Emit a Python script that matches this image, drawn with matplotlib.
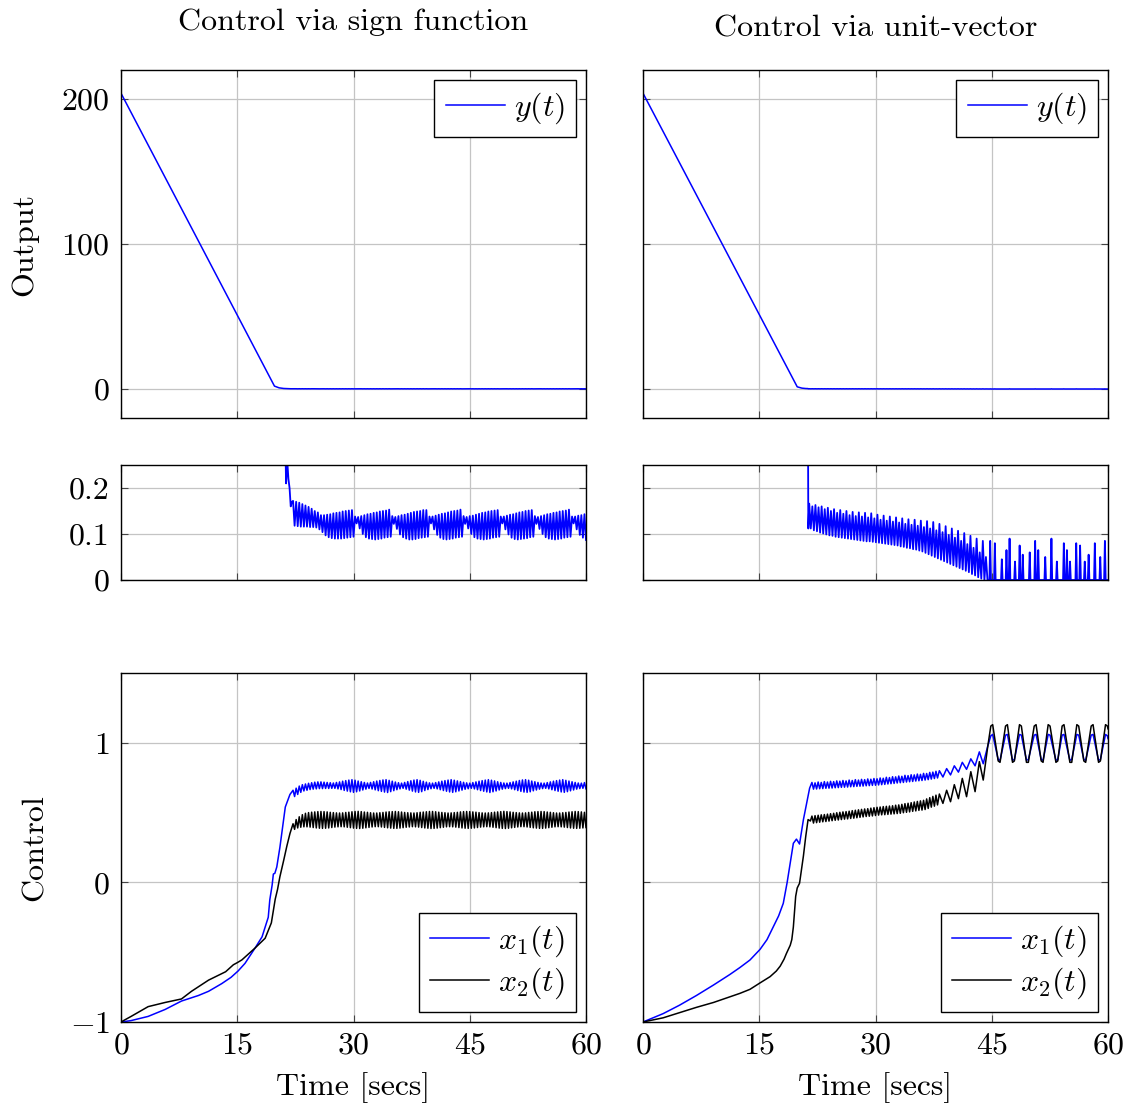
import numpy as np
import matplotlib.pyplot as plt

plt.rcParams['font.family'] = 'cmr10'
plt.rcParams['mathtext.fontset'] = 'cm'
plt.rcParams['axes.formatter.use_mathtext'] = True
plt.rcParams['font.size'] = 23

# ---------------- data ----------------
# output y(t), sign function: slope, then chattering (hi at 22.2+0.4k, lo in between)
y_sign_head_t = [0, 19.8, 20.4, 21.0, 21.2, 21.3, 21.45, 21.6, 21.75, 21.9, 22.05]
y_sign_head = [204.0, 2.0, 0.8, 0.36, 0.30, 0.21, 0.26, 0.22, 0.20, 0.16, 0.17]
y_sign_hi = [0.172, 0.170, 0.168, 0.165, 0.162, 0.159, 0.155, 0.150, 0.147, 0.141,
             0.141, 0.142, 0.143, 0.145, 0.146, 0.147, 0.149, 0.150, 0.151, 0.152,
             0.138, 0.137, 0.139, 0.141, 0.143, 0.144, 0.146, 0.147, 0.149, 0.150, 0.151, 0.153,
             0.139, 0.137, 0.139, 0.141, 0.142, 0.144, 0.146, 0.148, 0.149, 0.150, 0.152, 0.152,
             0.138, 0.138, 0.140, 0.142, 0.144, 0.145, 0.147, 0.149, 0.150, 0.151, 0.153,
             0.139, 0.137, 0.139, 0.140, 0.142, 0.144, 0.146, 0.147, 0.149, 0.150, 0.151, 0.152,
             0.138, 0.138, 0.140, 0.142, 0.143, 0.145, 0.147, 0.148, 0.150, 0.151, 0.152,
             0.139, 0.137, 0.139, 0.141, 0.143, 0.144, 0.146, 0.147, 0.149, 0.150, 0.151, 0.153,
             0.138, 0.138, 0.140, 0.141, 0.143]
y_sign_lo = [0.118, 0.117, 0.116, 0.116, 0.116, 0.115, 0.115, 0.114, 0.110, 0.104,
             0.097, 0.093, 0.091, 0.090, 0.090, 0.090, 0.091, 0.092, 0.093, 0.094,
             0.123, 0.112, 0.100, 0.093, 0.090, 0.089, 0.088, 0.089, 0.090, 0.092, 0.093, 0.094,
             0.122, 0.111, 0.099, 0.093, 0.090, 0.088, 0.088, 0.089, 0.091, 0.092, 0.093, 0.094,
             0.123, 0.110, 0.098, 0.092, 0.089, 0.088, 0.089, 0.090, 0.092, 0.093, 0.094,
             0.122, 0.112, 0.100, 0.093, 0.090, 0.089, 0.088, 0.089, 0.090, 0.092, 0.093, 0.094,
             0.123, 0.110, 0.099, 0.092, 0.089, 0.088, 0.089, 0.090, 0.091, 0.093, 0.094,
             0.122, 0.111, 0.100, 0.093, 0.090, 0.089, 0.088, 0.089, 0.090, 0.092, 0.093, 0.094,
             0.123, 0.110, 0.098, 0.092, 0.087]

# output y(t), unit-vector: slope, chattering (hi at 21.45+0.4k), then spikes from zero
y_unit_head_t = [0, 19.9, 20.5, 21.0, 21.3, 21.33]
y_unit_head = [204.0, 1.5, 0.6, 0.33, 0.28, 0.112]
y_unit_hi = [0.166, 0.160, 0.163, 0.158, 0.160, 0.154, 0.157, 0.150, 0.154, 0.146,
             0.152, 0.144, 0.150, 0.141, 0.148, 0.139, 0.147, 0.138, 0.146, 0.136,
             0.145, 0.134, 0.142, 0.131, 0.140, 0.129, 0.138, 0.127, 0.136, 0.125,
             0.134, 0.122, 0.132, 0.120, 0.131, 0.118, 0.129, 0.115, 0.128, 0.112,
             0.126, 0.108, 0.122, 0.104, 0.117, 0.098, 0.112, 0.092, 0.107, 0.085,
             0.102, 0.078, 0.096, 0.070, 0.090, 0.060, 0.085, 0.050]
y_unit_lo = [0.112, 0.108, 0.106, 0.103, 0.101, 0.099, 0.097, 0.096, 0.094, 0.093,
             0.092, 0.091, 0.090, 0.089, 0.088, 0.087, 0.086, 0.085, 0.084, 0.084,
             0.083, 0.082, 0.081, 0.080, 0.079, 0.078, 0.077, 0.076, 0.075, 0.073,
             0.072, 0.070, 0.069, 0.067, 0.066, 0.064, 0.062, 0.059, 0.056, 0.053,
             0.050, 0.047, 0.044, 0.041, 0.038, 0.035, 0.032, 0.029, 0.026, 0.023,
             0.020, 0.017, 0.013, 0.010, 0.006, 0.003, 0.0, 0.0]
y_unit_spike_t = [44.8, 45.4, 46.3, 46.9, 47.3, 48.0, 48.6, 49.0, 49.9, 50.6, 51.0, 51.9,
                  52.7, 53.4, 54.3, 54.7, 55.1, 55.9, 56.4, 57.0, 57.5, 58.3, 59.0, 59.6]
y_unit_spike = [0.085, 0.080, 0.045, 0.065, 0.090, 0.040, 0.075, 0.055, 0.060, 0.085, 0.065, 0.050,
                0.090, 0.040, 0.080, 0.065, 0.040, 0.080, 0.075, 0.040, 0.055, 0.080, 0.050, 0.085]

# control, sign function
x1_sign_head_t = [0, 1.3, 3.5, 5.7, 7.8, 10.0, 11.3, 13.0, 14.2, 15.1, 16.0, 17.3, 18.2, 19.0, 19.2,
                  19.5, 19.66, 19.85, 20.1, 20.5, 21.2, 21.4, 21.8]
x1_sign_head = [-1.0, -0.99, -0.96, -0.91, -0.85, -0.81, -0.78, -0.725, -0.68, -0.635, -0.58, -0.47,
                -0.39, -0.25, -0.125, -0.02, 0.06, 0.065, 0.11, 0.25, 0.54, 0.57, 0.63]
x1_sign_hi = [0.660, 0.675, 0.690, 0.700, 0.705, 0.710, 0.714, 0.718, 0.720, 0.720, 0.718, 0.716, 0.714,
              0.712,
              0.716, 0.720, 0.725, 0.729, 0.733, 0.736,
              0.732, 0.726, 0.721, 0.716, 0.712,
              0.716, 0.721, 0.726, 0.730, 0.734, 0.736,
              0.731, 0.725, 0.719, 0.714, 0.711,
              0.716, 0.722, 0.728, 0.733, 0.736,
              0.731, 0.724, 0.718, 0.713, 0.711,
              0.715, 0.720, 0.725, 0.729, 0.733, 0.736,
              0.732, 0.727, 0.722, 0.717, 0.713, 0.711,
              0.715, 0.720, 0.725, 0.729, 0.733, 0.736,
              0.732, 0.727, 0.721, 0.716, 0.712, 0.711,
              0.715, 0.720, 0.725, 0.730, 0.734, 0.736,
              0.732, 0.726, 0.721, 0.716, 0.712, 0.711,
              0.715, 0.720, 0.725, 0.729, 0.733, 0.736,
              0.731, 0.726, 0.721, 0.716, 0.712, 0.711,
              0.715]
x1_sign_lo = [0.615, 0.630, 0.645, 0.655, 0.660, 0.665, 0.668, 0.670, 0.672, 0.672, 0.673, 0.673, 0.674,
              0.674,
              0.670, 0.665, 0.659, 0.654, 0.649, 0.645,
              0.649, 0.655, 0.662, 0.668, 0.673,
              0.669, 0.663, 0.657, 0.652, 0.647, 0.644,
              0.650, 0.657, 0.664, 0.670, 0.674,
              0.668, 0.661, 0.654, 0.648, 0.645,
              0.650, 0.658, 0.665, 0.671, 0.674,
              0.670, 0.664, 0.658, 0.653, 0.648, 0.645,
              0.649, 0.655, 0.661, 0.667, 0.671, 0.674,
              0.670, 0.664, 0.658, 0.653, 0.648, 0.644,
              0.649, 0.655, 0.662, 0.668, 0.672, 0.674,
              0.670, 0.664, 0.658, 0.652, 0.647, 0.645,
              0.649, 0.656, 0.662, 0.668, 0.672, 0.674,
              0.670, 0.664, 0.658, 0.653, 0.648, 0.645,
              0.650, 0.656, 0.662, 0.668, 0.672, 0.674,
              0.670]

x2_sign_head_t = [0, 1.3, 3.5, 5.7, 7.8, 9.1, 11.3, 13.5, 14.5, 15.0, 15.6, 17.3, 18.6, 19.4,
                  19.9, 20.2, 20.5, 21.0, 21.4, 21.8]
x2_sign_head = [-1.0, -0.96, -0.89, -0.86, -0.835, -0.78, -0.70, -0.64, -0.59, -0.575, -0.555, -0.47,
                -0.40, -0.29, -0.12, -0.05, 0.04, 0.16, 0.26, 0.35]
x2_sign_hi = [0.420, 0.450, 0.470, 0.485, 0.495,
              0.500, 0.503, 0.505, 0.507, 0.508, 0.507, 0.505, 0.502, 0.500, 0.498, 0.497, 0.498,
              0.501, 0.503, 0.506, 0.508, 0.509, 0.507, 0.504, 0.502, 0.499, 0.497, 0.497, 0.499,
              0.501, 0.504, 0.506, 0.507, 0.508, 0.506, 0.504, 0.501, 0.499, 0.498, 0.497, 0.499,
              0.502, 0.504, 0.506, 0.508, 0.508, 0.506, 0.503, 0.501, 0.499, 0.497, 0.498, 0.500,
              0.502, 0.505, 0.507, 0.508, 0.507, 0.505, 0.503, 0.500, 0.498, 0.497, 0.498, 0.500,
              0.503, 0.505, 0.507, 0.509, 0.507, 0.505, 0.502, 0.500, 0.498, 0.497, 0.498, 0.501,
              0.503, 0.506, 0.507, 0.508, 0.507, 0.504, 0.502, 0.499, 0.497, 0.497, 0.499, 0.501,
              0.504, 0.506, 0.508, 0.507, 0.505, 0.502]
x2_sign_lo = [0.380, 0.390, 0.395, 0.398, 0.398,
              0.396, 0.393, 0.390, 0.388, 0.387, 0.388, 0.390, 0.393, 0.396, 0.398, 0.399, 0.398,
              0.395, 0.392, 0.389, 0.387, 0.386, 0.388, 0.391, 0.394, 0.397, 0.399, 0.399, 0.397,
              0.394, 0.391, 0.389, 0.387, 0.387, 0.389, 0.392, 0.395, 0.397, 0.399, 0.398, 0.396,
              0.393, 0.390, 0.388, 0.386, 0.387, 0.389, 0.392, 0.395, 0.398, 0.399, 0.398, 0.396,
              0.393, 0.390, 0.388, 0.387, 0.388, 0.390, 0.393, 0.396, 0.398, 0.399, 0.398, 0.395,
              0.392, 0.389, 0.387, 0.386, 0.388, 0.391, 0.394, 0.397, 0.399, 0.399, 0.397, 0.394,
              0.391, 0.389, 0.387, 0.387, 0.389, 0.392, 0.395, 0.398, 0.399, 0.398, 0.396, 0.393,
              0.390, 0.388, 0.387, 0.388, 0.390, 0.393]

# control, unit-vector
x1_unit_head_t = [0, 2.6, 4.7, 6.9, 9.1, 11.2, 12.5, 13.8, 15.1, 16.0, 16.8, 17.5, 18.1, 18.6,
                  19.0, 19.4, 19.8, 20.2, 20.7, 21.5]
x1_unit_head = [-1.0, -0.94, -0.88, -0.81, -0.735, -0.66, -0.61, -0.556, -0.48, -0.41, -0.32, -0.24,
                -0.15, 0.0, 0.14, 0.28, 0.31, 0.275, 0.45, 0.675]
x1_unit_hi = [0.716, 0.713, 0.719, 0.716, 0.722, 0.719, 0.724, 0.722, 0.727, 0.725,
              0.730, 0.727, 0.733, 0.730, 0.736, 0.733, 0.738, 0.736, 0.741, 0.739,
              0.744, 0.742, 0.748, 0.746, 0.753, 0.751, 0.757, 0.756, 0.762, 0.760,
              0.767, 0.765, 0.771, 0.770, 0.776, 0.774, 0.781, 0.780, 0.788, 0.790, 0.796]
x1_unit_lo = [0.668, 0.669, 0.671, 0.672, 0.674, 0.675, 0.676, 0.678, 0.679, 0.681,
              0.682, 0.683, 0.685, 0.686, 0.688, 0.689, 0.690, 0.692, 0.693, 0.695,
              0.696, 0.698, 0.700, 0.702, 0.705, 0.707, 0.709, 0.712, 0.714, 0.716,
              0.719, 0.721, 0.723, 0.726, 0.728, 0.730, 0.733, 0.736, 0.740, 0.744, 0.748]
x2_unit_head_t = [0, 2.6, 4.7, 6.9, 9.1, 11.2, 12.5, 13.8, 15.1, 16.4, 17.2, 17.7, 18.2, 18.5, 19.0,
                  19.2, 19.4, 19.7, 19.9, 20.2, 20.7, 21.0, 21.3, 21.6]
x2_unit_head = [-1.0, -0.97, -0.933, -0.895, -0.86, -0.82, -0.795, -0.766, -0.72, -0.675, -0.635,
                -0.60, -0.55, -0.51, -0.45, -0.41, -0.32, -0.10, -0.04, -0.006, 0.19, 0.33, 0.45, 0.44]
x2_unit_hi = [0.475, 0.478, 0.481, 0.484, 0.486, 0.489, 0.492, 0.495, 0.499, 0.502,
              0.505, 0.507, 0.510, 0.514, 0.517, 0.520, 0.523, 0.526, 0.528, 0.532,
              0.535, 0.538, 0.540, 0.543, 0.545, 0.547, 0.549, 0.553, 0.555, 0.559,
              0.564, 0.567, 0.571, 0.576, 0.580, 0.584, 0.588, 0.598, 0.607, 0.616, 0.625]
x2_unit_lo = [0.425, 0.428, 0.431, 0.434, 0.436, 0.439, 0.442, 0.445, 0.447, 0.450,
              0.453, 0.455, 0.458, 0.460, 0.463, 0.466, 0.469, 0.472, 0.474, 0.476,
              0.479, 0.482, 0.484, 0.485, 0.487, 0.489, 0.491, 0.493, 0.495, 0.499,
              0.502, 0.505, 0.509, 0.512, 0.516, 0.518, 0.522, 0.530, 0.539, 0.546, 0.555]
# slower growing oscillation 38-45 s, then limit cycle
unit_tr_t = [38.24, 38.7, 39.18, 39.68, 40.17, 40.7, 41.2, 41.75, 42.3, 42.85, 43.4, 43.9, 44.5]
x1_unit_tr = [0.80, 0.755, 0.815, 0.77, 0.835, 0.79, 0.86, 0.81, 0.885, 0.835, 0.935, 0.85, 0.98]
x2_unit_tr = [0.633, 0.566, 0.66, 0.578, 0.70, 0.60, 0.745, 0.614, 0.793, 0.65, 0.865, 0.733, 0.98]
unit_tail_t = [44.88, 45.12, 45.83, 46.07, 46.78, 47.02, 47.68, 47.92, 48.58, 48.82, 49.48, 49.72,
               50.48, 50.72, 51.38, 51.62, 52.28, 52.52, 53.28, 53.52, 54.08, 54.32, 55.08, 55.32,
               55.98, 56.22, 56.88, 57.12, 57.83, 58.07, 58.78, 59.02, 59.68, 59.92, 60.0]
x1_unit_tail = [1.05, 1.06, 0.88, 0.875, 1.055, 1.06, 0.875, 0.88, 1.06, 1.055, 0.875, 0.88,
                1.055, 1.06, 0.88, 0.875, 1.06, 1.055, 0.875, 0.88, 1.055, 1.06, 0.875, 0.88,
                1.06, 1.055, 0.88, 0.875, 1.055, 1.06, 0.875, 0.88, 1.06, 1.05, 1.03]
x2_unit_tail = [1.12, 1.13, 0.87, 0.86, 1.12, 1.13, 0.86, 0.87, 1.13, 1.12, 0.86, 0.86,
                1.12, 1.13, 0.87, 0.86, 1.13, 1.12, 0.86, 0.87, 1.12, 1.13, 0.86, 0.86,
                1.13, 1.12, 0.87, 0.86, 1.12, 1.13, 0.86, 0.87, 1.13, 1.12, 1.10]


def chatter(t0, hi, lo, dt=0.4):
    # hi/lo alternate every half period
    th = t0 + dt * np.arange(len(hi))
    tl = t0 + dt / 2 + dt * np.arange(len(lo))
    t = np.concatenate([th, tl])
    v = np.concatenate([hi, lo])
    o = np.argsort(t, kind='stable')
    return t[o], v[o]


def join(*parts):
    return (np.concatenate([np.asarray(p[0], float) for p in parts]),
            np.concatenate([np.asarray(p[1], float) for p in parts]))


def spikes(ts, vs, w=0.1):
    t, v = [], []
    for a, b in zip(ts, vs):
        t += [a - w, a, a + w]
        v += [0.0, b, 0.0]
    return t, v


ys = join((y_sign_head_t, y_sign_head), chatter(22.2, y_sign_hi, y_sign_lo))
yu = join((y_unit_head_t, y_unit_head), chatter(21.45, y_unit_hi, y_unit_lo),
          spikes(y_unit_spike_t, y_unit_spike), ([60.0], [0.0]))
x1s = join((x1_sign_head_t, x1_sign_head), chatter(22.2, x1_sign_hi, x1_sign_lo))
x2s = join((x2_sign_head_t, x2_sign_head), chatter(22.2, x2_sign_hi, x2_sign_lo))
x1u = join((x1_unit_head_t, x1_unit_head), chatter(21.8, x1_unit_hi, x1_unit_lo),
           (unit_tr_t, x1_unit_tr), (unit_tail_t, x1_unit_tail))
x2u = join((x2_unit_head_t, x2_unit_head), chatter(21.8, x2_unit_hi, x2_unit_lo),
           (unit_tr_t, x2_unit_tr), (unit_tail_t, x2_unit_tail))

# ---------------- figure ----------------
W, H = 1129, 1111
fig = plt.figure(figsize=(W / 100, H / 100), dpi=100)


def box(x0, x1, y0, y1):
    return [x0 / W, 1 - y1 / H, (x1 - x0) / W, (y1 - y0) / H]


cols = [(121, 586), (643, 1108)]
rows = [(70, 418), (465, 580), (673, 1022)]
axes = [[fig.add_axes(box(c[0], c[1], r[0], r[1])) for c in cols] for r in rows]

lw = 1.1
for j, (yser, x1ser, x2ser) in enumerate([(ys, x1s, x2s), (yu, x1u, x2u)]):
    a0, a1, a2 = axes[0][j], axes[1][j], axes[2][j]
    a0.plot(*yser, color='blue', lw=lw, label='$y(t)$')
    a1.plot(*yser, color='blue', lw=1.3)
    a2.plot(*x1ser, color='blue', lw=lw, label='$x_1(t)$')
    a2.plot(*x2ser, color='black', lw=lw, label='$x_2(t)$')

    a0.set_ylim(-20, 220)
    a0.set_yticks([0, 100, 200])
    a1.set_ylim(0, 0.25)
    a1.set_yticks([0, 0.1, 0.2])
    a1.set_yticklabels(['0', '0.1', '0.2'])
    a2.set_ylim(-1, 1.5)
    a2.set_yticks([-1, 0, 1])

    leg_kw = dict(fancybox=False, edgecolor='black', framealpha=1, handlelength=1.85,
                  borderaxespad=0.3, fontsize=23, borderpad=0.35, handletextpad=0.3)
    a0.legend(loc='upper right', **leg_kw)
    a2.legend(loc='lower right', labelspacing=0.2, **leg_kw)

    for i, ax in enumerate((a0, a1, a2)):
        ax.set_xlim(0, 60)
        ax.set_xticks([0, 15, 30, 45, 60])
        ax.grid(True, color='#c4c4c4', lw=0.9)
        ax.set_axisbelow(True)
        ax.tick_params(direction='in', top=True, right=True, length=5, width=0.8,
                       color='#444444', labelsize=23)
        ax.tick_params(axis='y', pad=8)
        ax.tick_params(axis='x', pad=7)
        for s in ax.spines.values():
            s.set_linewidth(1.0)
        if i < 2:
            ax.tick_params(labelbottom=False)
        if j == 1:
            ax.tick_params(labelleft=False)

fig.text(353.5 / W, 1 - 22 / H, 'Control via sign function', ha='center', va='center', fontsize=23)
fig.text(875.5 / W, 1 - 29 / H, 'Control via unit-vector', ha='center', va='center', fontsize=23)
fig.text(25 / W, 1 - 244 / H, 'Output', rotation=90, ha='center', va='center', fontsize=23)
fig.text(35 / W, 1 - 848 / H, 'Control', rotation=90, ha='center', va='center', fontsize=23)
for cx in (353.5, 875.5):
    fig.text(cx / W, 1 - 1088 / H, 'Time [secs]', ha='center', va='center', fontsize=23)

fig.savefig('out.png', dpi=100)
